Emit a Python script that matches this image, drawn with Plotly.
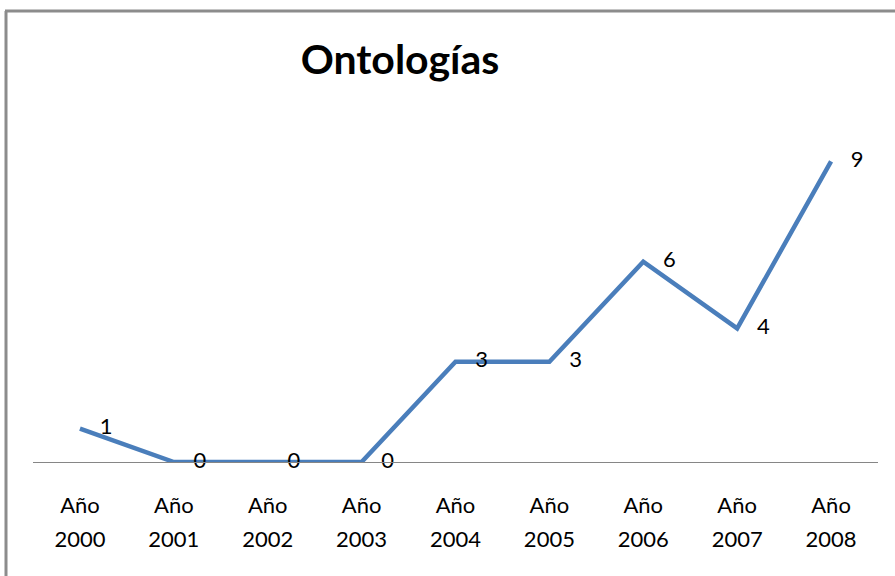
import plotly.graph_objects as go

years = ["2000", "2001", "2002", "2003", "2004", "2005", "2006", "2007", "2008"]
prefix_labels = ["Año"] * len(years)
counts = [1, 0, 0, 0, 3, 3, 6, 4, 9]

W, H = 895, 576
ml, mr, mt, mb = 33, 17, 128, 114
plot_w = W - ml - mr
plot_h = H - mt - mb


def px_x(p):
    return (p - ml) / plot_w


def px_y(p):
    return (H - mb - p) / plot_h


fig = go.Figure()
fig.add_trace(
    go.Scatter(
        x=years,
        y=counts,
        mode="lines+markers+text",
        line=dict(color="#4a7ebb", width=4.5),
        marker=dict(size=30, color="rgba(0,0,0,0)"),
        text=[str(c) for c in counts],
        textposition="middle right",
        textfont=dict(family="Lato", size=22, color="#000000"),
        cliponaxis=False,
        hoverinfo="skip",
    )
)
# second (overlaid) category axis carries the year line of the tick labels
fig.add_trace(
    go.Scatter(x=years, y=counts, xaxis="x2", mode="none", hoverinfo="skip")
)

tick_font = dict(family="Lato", size=22, color="#000000")

fig.update_layout(
    width=W,
    height=H,
    margin=dict(l=ml, r=mr, t=mt, b=mb),
    paper_bgcolor="white",
    plot_bgcolor="white",
    showlegend=False,
    title=dict(
        text="<b>Ontologías</b>",
        font=dict(family="Lato", size=41, color="#000000"),
        x=px_x(400),
        xref="paper",
        xanchor="center",
        y=1 - 60 / H,
        yref="container",
        yanchor="middle",
    ),
    xaxis=dict(
        type="category",
        tickvals=years,
        ticktext=prefix_labels,
        range=[-0.5, 8.5],
        showgrid=False,
        zeroline=False,
        showline=True,
        linecolor="#868686",
        linewidth=1,
        ticks="",
        tickfont=tick_font,
        ticklabelstandoff=24,
    ),
    xaxis2=dict(
        type="category",
        overlaying="x",
        anchor="y",
        side="bottom",
        tickvals=years,
        ticktext=years,
        range=[-0.5, 8.5],
        showgrid=False,
        zeroline=False,
        showline=False,
        ticks="",
        tickfont=tick_font,
        ticklabelstandoff=62,
    ),
    yaxis=dict(
        range=[0, 10],
        visible=False,
        showgrid=False,
        zeroline=False,
    ),
    shapes=[
        dict(type="line", xref="paper", yref="paper",
             x0=px_x(6), x1=px_x(6), y0=px_y(11), y1=px_y(H + 5),
             line=dict(color="#8c8c8c", width=3)),
        dict(type="line", xref="paper", yref="paper",
             x0=px_x(5), x1=px_x(W + 5), y0=px_y(11), y1=px_y(11),
             line=dict(color="#8c8c8c", width=3)),
    ],
)

fig.write_html(
    "out.html",
    config={"displayModeBar": False},
    post_script="document.body.style.margin='0';",
)
